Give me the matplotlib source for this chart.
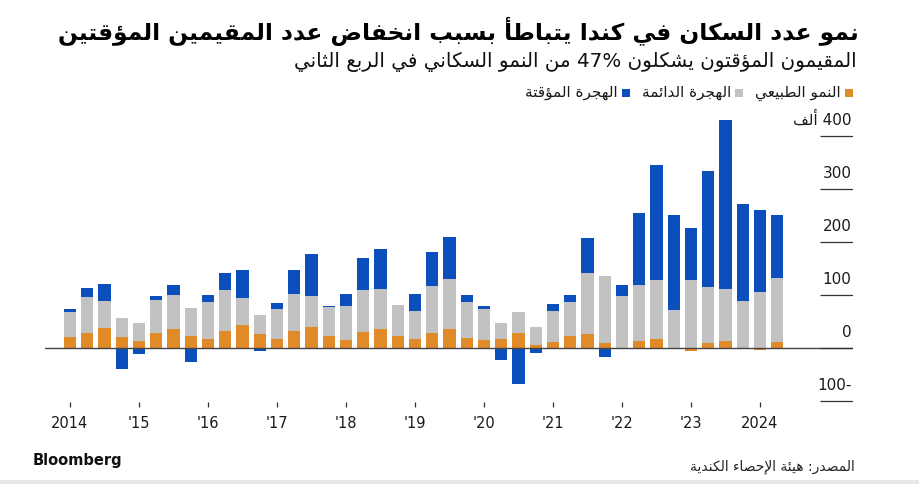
import re
import matplotlib
matplotlib.use('Agg')
import matplotlib.pyplot as plt
from matplotlib.patches import Rectangle
import numpy as np

plt.rcParams['font.family'] = ['DejaVu Sans']

# ---------------- data (thousands of people, quarterly) ----------------
quarters = ['2014Q1', '2014Q2', '2014Q3', '2014Q4', '2015Q1', '2015Q2', '2015Q3', '2015Q4',
            '2016Q1', '2016Q2', '2016Q3', '2016Q4', '2017Q1', '2017Q2', '2017Q3', '2017Q4',
            '2018Q1', '2018Q2', '2018Q3', '2018Q4', '2019Q1', '2019Q2', '2019Q3', '2019Q4',
            '2020Q1', '2020Q2', '2020Q3', '2020Q4', '2021Q1', '2021Q2', '2021Q3', '2021Q4',
            '2022Q1', '2022Q2', '2022Q3', '2022Q4', '2023Q1', '2023Q2', '2023Q3', '2023Q4',
            '2024Q1', '2024Q2']
natural = [20.8, 29.6, 37.7, 20.8, 13.8, 28.9, 36.5, 23.3, 17.6, 32.7, 44.0, 26.4,
           17.6, 32.7, 39.6, 23.3, 15.1, 30.2, 36.5, 23.3, 17.6, 28.9, 36.5, 19.5,
           16.4, 17.6, 28.9, 6.3, 11.3, 23.3, 27.0, 9.4, -1.3, 13.8, 17.0, 1.3,
           -4.4, 9.4, 13.8, 0.6, -3.8, 11.3]
permanent = [47.8, 66.7, 50.9, 36.5, 34.0, 61.6, 64.2, 52.2, 69.8, 78.0, 50.9, 36.5,
             56.6, 69.2, 59.7, 54.7, 64.8, 79.9, 75.5, 58.5, 53.5, 88.7, 93.7, 67.3,
             57.2, 30.2, 39.6, 34.0, 58.5, 64.8, 114.5, 126.4, 98.1, 105.7, 112.6, 71.0,
             129.6, 105.7, 98.7, 89.3, 106.3, 121.4]
temporary = [5.7, 17.6, 32.7, -39.6, -10.0, 8.2, 18.9, -25.2, 13.2, 30.8, 52.2, -5.0,
             10.7, 45.9, 78.6, 2.0, 22.6, 59.7, 75.5, -2.0, 31.4, 64.2, 79.9, 13.8,
             5.7, -22.6, -66.7, -8.8, 14.5, 12.6, 67.3, -15.7, 21.4, 135.2, 215.7, 179.2,
             97.5, 219.5, 318.2, 183.0, 154.1, 118.9]

year_tick_quarters = ['2014Q1', '2015Q1', '2016Q1', '2017Q1', '2018Q1', '2019Q1',
                      '2020Q1', '2021Q1', '2022Q1', '2023Q1', '2024Q1']
year_labels = ['2014', "'15", "'16", "'17", "'18", "'19", "'20", "'21", "'22", "'23", '2024']
y_ticks = [-100, 0, 100, 200, 300, 400]
y_labels = ['-100', '0', '100', '200', '300', '400 ألف']

title = 'نمو عدد السكان في كندا يتباطأ بسبب انخفاض عدد المقيمين المؤقتين'
subtitle = 'المقيمون المؤقتون يشكلون 47% من النمو السكاني في الربع الثاني'
series_names = ['النمو الطبيعي', 'الهجرة الدائمة', 'الهجرة المؤقتة']
source = 'المصدر: هيئة الإحصاء الكندية'
brand = 'Bloomberg'

colors = ['#E08B28', '#C2C2C2', '#0A4FBC']

# ---------------- minimal Arabic shaping + RTL ordering ----------------
_TABLE = [(0x0621, 0xFE80, 1), (0x0622, 0xFE81, 2), (0x0623, 0xFE83, 2), (0x0624, 0xFE85, 2),
          (0x0625, 0xFE87, 2), (0x0626, 0xFE89, 4), (0x0627, 0xFE8D, 2), (0x0628, 0xFE8F, 4),
          (0x0629, 0xFE93, 2), (0x062A, 0xFE95, 4), (0x062B, 0xFE99, 4), (0x062C, 0xFE9D, 4),
          (0x062D, 0xFEA1, 4), (0x062E, 0xFEA5, 4), (0x062F, 0xFEA9, 2), (0x0630, 0xFEAB, 2),
          (0x0631, 0xFEAD, 2), (0x0632, 0xFEAF, 2), (0x0633, 0xFEB1, 4), (0x0634, 0xFEB5, 4),
          (0x0635, 0xFEB9, 4), (0x0636, 0xFEBD, 4), (0x0637, 0xFEC1, 4), (0x0638, 0xFEC5, 4),
          (0x0639, 0xFEC9, 4), (0x063A, 0xFECD, 4), (0x0641, 0xFED1, 4), (0x0642, 0xFED5, 4),
          (0x0643, 0xFED9, 4), (0x0644, 0xFEDD, 4), (0x0645, 0xFEE1, 4), (0x0646, 0xFEE5, 4),
          (0x0647, 0xFEE9, 4), (0x0648, 0xFEED, 2), (0x0649, 0xFEEF, 2), (0x064A, 0xFEF1, 4)]
FORMS = {chr(c): [chr(s + k) for k in range(n)] for c, s, n in _TABLE}
LAMALEF = {'\u0622': ['\uFEF5', '\uFEF6'], '\u0623': ['\uFEF7', '\uFEF8'],
           '\u0625': ['\uFEF9', '\uFEFA'], '\u0627': ['\uFEFB', '\uFEFC']}


def shape(text):
    toks = []
    i = 0
    while i < len(text):
        c = text[i]
        if c == '\u0644' and i + 1 < len(text) and text[i + 1] in LAMALEF:
            toks.append(LAMALEF[text[i + 1]])
            i += 2
        else:
            toks.append(FORMS.get(c, c))
            i += 1

    def nf(t):
        return len(t) if isinstance(t, list) else 0

    out = []
    for j, t in enumerate(toks):
        n = nf(t)
        if n == 0:
            out.append(t)
            continue
        pj = n >= 2 and j > 0 and nf(toks[j - 1]) == 4
        nj = n == 4 and j + 1 < len(toks) and nf(toks[j + 1]) >= 2
        if pj and nj:
            idx = 3
        elif pj:
            idx = 1
        elif nj:
            idx = 2
        else:
            idx = 0
        out.append(t[idx])
    return ''.join(out)


def rtl(text):
    s = shape(text)[::-1]
    return re.sub(r'[0-9A-Za-z%]+', lambda m: m.group(0)[::-1], s)


# ---------------- figure ----------------
W, H = 920, 484
fig = plt.figure(figsize=(W / 100, H / 100), dpi=100)
fig.patch.set_facecolor('white')

ax_l, ax_r, ax_t, ax_b = 45, 853, 110, 410
ax = fig.add_axes([ax_l / W, 1 - ax_b / H, (ax_r - ax_l) / W, (ax_b - ax_t) / H])
zero_px, px_per_100 = 348.3, 53.0
ax.set_ylim(-(ax_b - zero_px) / px_per_100 * 100, (zero_px - ax_t) / px_per_100 * 100)
step = 17.25
ax.set_xlim((ax_l - 70) / step, (ax_r - 70) / step)
for s in ax.spines.values():
    s.set_visible(False)
ax.set_xticks([])
ax.set_yticks([])

x = np.arange(len(quarters))
pos_base = np.zeros(len(x))
neg_base = np.zeros(len(x))
for vals, col, name in zip([natural, permanent, temporary], colors, series_names):
    v = np.array(vals, dtype=float)
    bottom = np.where(v >= 0, pos_base, neg_base)
    ax.bar(x, v, bottom=bottom, width=0.7, color=col, linewidth=0, zorder=2)
    pos_base += np.where(v >= 0, v, 0)
    neg_base += np.where(v < 0, v, 0)

# zero line and short right-side gridlines
ax.axhline(0, color='#444444', lw=1.0, zorder=3)
gx0 = (820 - ax_l) / (ax_r - ax_l)
ax.hlines(y_ticks, gx0, 1.0, transform=ax.get_yaxis_transform(), color='#333333', lw=0.9, zorder=3)
for v, lab in zip(y_ticks, y_labels):
    ax.annotate(rtl(lab), xy=(1.0, v), xycoords=ax.get_yaxis_transform(),
                xytext=(-1, 8), textcoords='offset points', ha='right', va='baseline',
                fontsize=11, color='#1a1a1a')

# x ticks (detached) and labels
xt = [quarters.index(q) for q in year_tick_quarters]
ax.vlines(xt, (ax_b - 407) / (ax_b - ax_t), (ax_b - 402) / (ax_b - ax_t),
          transform=ax.get_xaxis_transform(), color='#333333', lw=0.9, clip_on=False)
for p, lab in zip(xt, year_labels):
    ax.text(p, (ax_b - 423) / (ax_b - ax_t), lab, transform=ax.get_xaxis_transform(),
            ha='center', va='center', fontsize=10.5, color='#1a1a1a')

# ---------------- texts ----------------
renderer = fig.canvas.get_renderer()


def fit(t, target):
    w = t.get_window_extent(renderer).width
    t.set_fontsize(t.get_fontsize() * target / w)


t_title = fig.text(859 / W, 1 - 31 / H, rtl(title), ha='right', va='center',
                   fontsize=20, weight='bold', color='#000000')
fit(t_title, 803)
t_sub = fig.text(857 / W, 1 - 62 / H, rtl(subtitle), ha='right', va='center',
                 fontsize=14, color='#111111')
fit(t_sub, 565)

# legend (right to left)
xr = 853
leg_y = 93
sq = 8
for name, col in zip(series_names, colors):
    fig.patches.append(Rectangle(((xr - sq) / W, 1 - (leg_y + sq / 2) / H), sq / W, sq / H,
                                 transform=fig.transFigure, facecolor=col, edgecolor='none'))
    t = fig.text((xr - sq - 4) / W, 1 - leg_y / H, rtl(name), ha='right', va='center',
                 fontsize=11, color='#1a1a1a')
    w = t.get_window_extent(renderer).width
    xr = xr - sq - 4 - w - 12

fig.text(33 / W, 1 - 461 / H, brand, ha='left', va='center', fontsize=10.5,
         weight='bold', color='#111111')
t_src = fig.text(855 / W, 1 - 467 / H, rtl(source), ha='right', va='center',
                 fontsize=10, color='#222222')
fit(t_src, 165)

# light strip at the very bottom
fig.patches.append(Rectangle((0, 0), 1, 4 / H, transform=fig.transFigure,
                             facecolor='#E8E8E8', edgecolor='none'))

fig.savefig('out.png', dpi=100, facecolor='white')
